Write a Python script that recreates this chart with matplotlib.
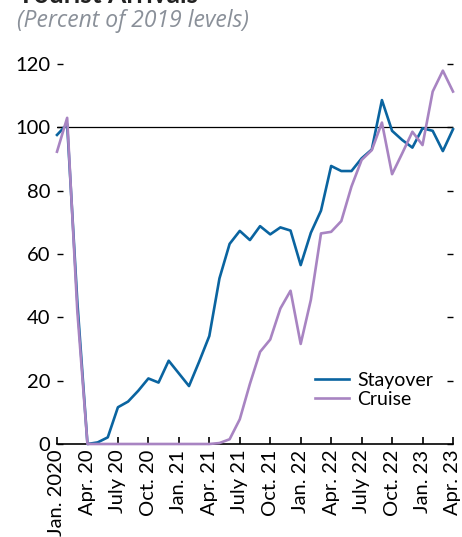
import matplotlib.pyplot as plt
import numpy as np

# monthly data, Jan 2020 - Apr 2023 (percent of 2019 levels)
stayover = [97.6, 101, 45, 0, 0.5, 2.1, 11.6, 13.4, 16.8, 20.7, 19.4, 26.3,
            22.3, 18.3, 26.0, 34.1, 52.3, 63.2, 67.3, 64.4, 68.8, 66.2, 68.4, 67.4,
            56.5, 66.7, 73.7, 87.8, 86.2, 86.2, 90.2, 93.0, 108.6, 98.9, 96.0, 93.6,
            99.7, 98.9, 92.5, 99.4]
cruise = [92.3, 103, 42, 0, 0, 0, 0, 0, 0, 0, 0, 0,
          0, 0, 0, 0, 0.3, 1.5, 7.8, 19.0, 29.1, 33.0, 42.8, 48.4,
          31.6, 45.5, 66.5, 67.0, 70.4, 81.3, 89.7, 92.8, 101.5, 85.2, 91.8, 98.6,
          94.4, 111.3, 117.9, 111.3]
tick_labels = ['Jan. 2020', 'Apr. 20', 'July 20', 'Oct. 20', 'Jan. 21', 'Apr. 21',
               'July 21', 'Oct. 21', 'Jan. 22', 'Apr. 22', 'July 22', 'Oct. 22',
               'Jan. 23', 'Apr. 23']
y_ticks = [0, 20, 40, 60, 80, 100, 120]

plt.rcParams['font.family'] = ['Lato', 'DejaVu Sans']

fig = plt.figure(figsize=(4.62, 5.37), dpi=100)
ax = fig.add_axes([57 / 462, 93 / 537, 396 / 462, 380 / 537])

months = np.arange(len(stayover))
ax.plot(months, stayover, color='#0a64a0', lw=1.9, label='Stayover', clip_on=False, zorder=3)
ax.plot(months, cruise, color='#a884c2', lw=1.9, label='Cruise', clip_on=False, zorder=4)
ax.axhline(100, color='black', lw=0.9, zorder=2)

ax.set_xlim(0, 39)
ax.set_ylim(0, 120)
ax.set_xticks(np.arange(0, 40, 3))
ax.set_xticklabels(tick_labels, rotation=90, fontsize=14.5)
ax.set_yticks(y_ticks)
ax.set_yticklabels([str(v) for v in y_ticks], fontsize=14.5)

for s in ['top', 'left', 'right']:
    ax.spines[s].set_visible(False)
ax.spines['bottom'].set_linewidth(1.2)
ax.tick_params(axis='x', direction='in', length=5, width=1.2, pad=4)
ax.tick_params(axis='y', direction='in', length=4, width=1.0, pad=5,
               right=True, left=True)

leg = ax.legend(loc='lower right', bbox_to_anchor=(0.97, 0.075), frameon=False,
                fontsize=14, handlelength=1.75, handletextpad=0.45, labelspacing=0.1,
                borderaxespad=0)

# title is cut off at the top in the source image
fig.text(18 / 462, 1.0 - 3 / 537, 'Tourist Arrivals', fontsize=19, fontweight='bold',
         color='#222222', va='baseline')
fig.text(17 / 462, 1.0 - 27 / 537, '(Percent of 2019 levels)', fontsize=16.5,
         style='italic', color='#8a9099', va='baseline', family=['Open Sans', 'DejaVu Sans'])

plt.savefig('out.png', dpi=100)
